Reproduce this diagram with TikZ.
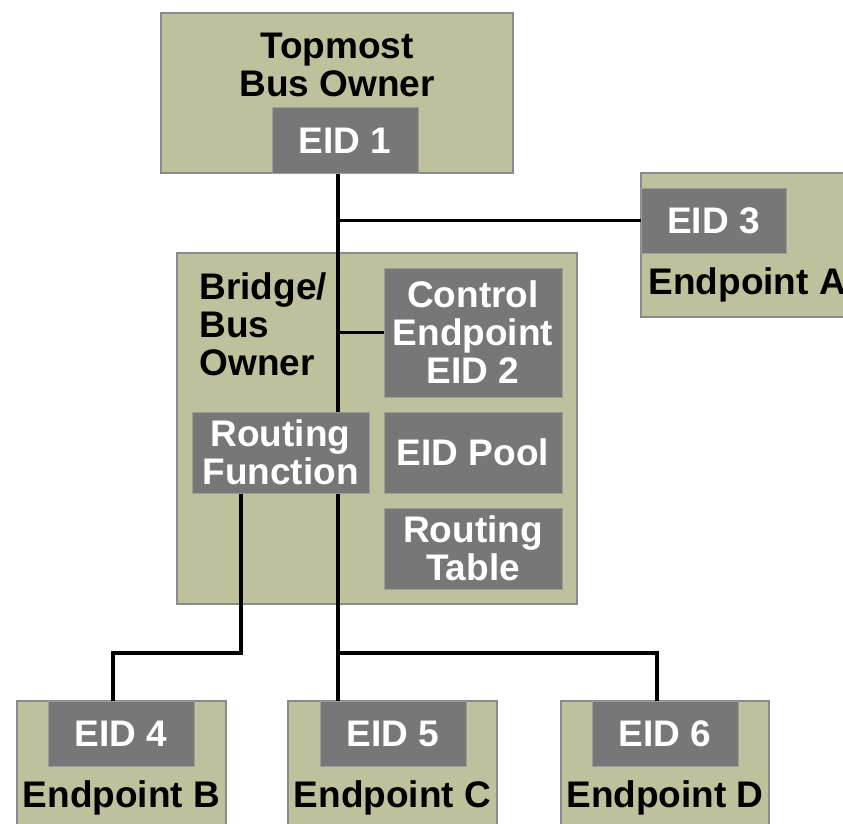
\documentclass[tikz,border=0pt]{standalone}
\usepackage{fontspec}
\setmainfont{Liberation Sans}
\definecolor{olive}{RGB}{191,193,157}
\definecolor{boxgray}{RGB}{119,119,119}
\definecolor{rimgray}{RGB}{138,138,138}
\pgfdeclarelayer{back}
\pgfdeclarelayer{lines}
\pgfsetlayers{back,lines,main}
\begin{document}
\begin{tikzpicture}[x=1pt,y=-1pt,
  every node/.style={font=\bfseries\fontsize{37}{38}\selectfont,align=center},
  outer/.style={draw=rimgray,fill=olive,line width=2pt,inner sep=0pt},
  inner/.style={draw=rimgray!85,fill=boxgray,line width=1pt,text=white,inner sep=0pt},
  wire/.style={line width=3.5pt,black}]
\useasboundingbox (0,0) rectangle (843,824);
% outer boxes
\begin{pgfonlayer}{back}
\node[outer,minimum width=352pt,minimum height=160pt] (topbox) at (337,93) {};
\node[outer,minimum width=219pt,minimum height=144pt] (endA) at (750.5,245) {};
\node[outer,minimum width=400pt,minimum height=351pt] (bridge) at (377,428.5) {};
\node[outer,minimum width=209pt,minimum height=140pt] (endB) at (121.5,771) {};
\node[outer,minimum width=209pt,minimum height=140pt] (endC) at (392.5,771) {};
\node[outer,minimum width=208pt,minimum height=140pt] (endD) at (665,771) {};
\end{pgfonlayer}
% labels on the olive boxes
\node (topname) at (337,65) {Topmost\\Bus Owner};
\node[anchor=west] (nameA) at (645,285) {Endpoint A};
\node[anchor=west,align=left] (bridgename) at (196,324) {Bridge/\\Bus\\Owner};
\node (nameB) at (121.5,798) {Endpoint B};
\node (nameC) at (392.5,798) {Endpoint C};
\node (nameD) at (665,798) {Endpoint D};
% gray boxes
\node[inner,minimum width=146pt,minimum height=65pt] (eid1) at (345,140.5) {EID 1};
\node[inner,minimum width=145pt,minimum height=65pt] (eid3) at (713.5,220.5) {EID 3};
\node[inner,minimum width=178pt,minimum height=129pt] (ctl) at (473,332.5) {Control\\Endpoint\\EID 2};
\node[inner,minimum width=177pt,minimum height=81pt] (rf) at (280.5,452.5) {Routing\\Function};
\node[inner,minimum width=178pt,minimum height=81pt] (pool) at (473,452.5) {EID Pool};
\node[inner,minimum width=178pt,minimum height=81pt] (rtab) at (473,548.5) {Routing\\Table};
\node[inner,minimum width=146pt,minimum height=65pt] (eid4) at (121,733.5) {EID 4};
\node[inner,minimum width=146pt,minimum height=65pt] (eid5) at (393,733.5) {EID 5};
\node[inner,minimum width=146pt,minimum height=65pt] (eid6) at (665,733.5) {EID 6};
% bus lines
\coordinate (bus) at (338,653);
\coordinate (rfdrop) at (241,653);
\begin{pgfonlayer}{lines}
\draw[wire] (eid1.south -| bus) -- (eid5.north -| bus);
\draw[wire] (bus |- eid3) -- (eid3.west);
\draw[wire] (bus |- ctl) -- (ctl.west);
\draw[wire] (bus) -| ([xshift=-8pt]eid6.north);
\draw[wire] (rf.south -| rfdrop) -- (rfdrop) -| ([xshift=-8pt]eid4.north);
\end{pgfonlayer}
\end{tikzpicture}
\end{document}
